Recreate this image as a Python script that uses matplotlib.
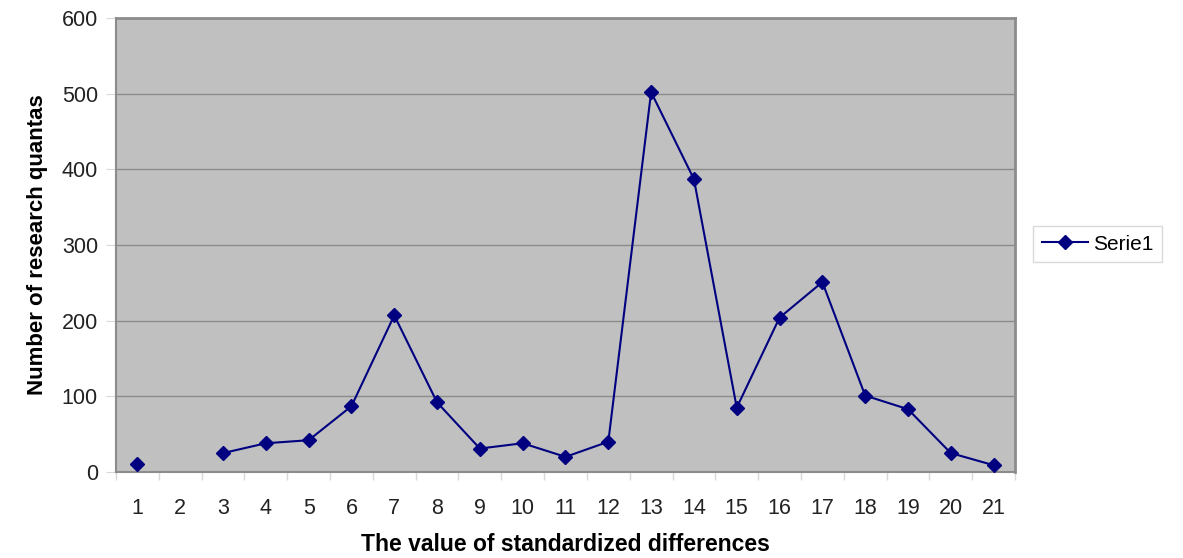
import numpy as np
import matplotlib
matplotlib.use("Agg")
import matplotlib.pyplot as plt

categories = list(range(1, 22))
values = [11, np.nan, 25, 38, 42, 87, 207, 92, 31, 38, 20, 40, 502, 387, 85, 204, 251, 101, 83, 25, 9]
series_name = "Serie1"
yticks = [0, 100, 200, 300, 400, 500, 600]

plt.rcParams['font.family'] = ['Liberation Sans', 'DejaVu Sans']

fig = plt.figure(figsize=(11.83, 5.58), dpi=100)
ax = fig.add_axes([116/1183, 86/558, (1015-116)/1183, (472-18)/558])
ax.set_facecolor('#C0C0C0')

x = np.arange(1, 22)
ax.plot(x, values, color='#000080', lw=1.5, marker='D', ms=7, label=series_name, zorder=3)

ax.set_xlim(0.5, 21.5)
ax.set_ylim(0, 600)
ax.set_yticks(yticks)
ax.set_yticklabels([str(t) for t in yticks], fontsize=15.5, color='#222222')
ax.set_xticks(x)
ax.set_xticklabels([str(c) for c in categories], fontsize=15.5, color='#222222')
ax.set_xticks(np.arange(0.5, 22, 1), minor=True)
ax.tick_params(axis='x', which='major', length=0, pad=19)
ax.tick_params(axis='x', which='minor', length=6, color='#D8D8D8', width=1)
ax.tick_params(axis='y', length=7, color='#D8D8D8', pad=6)

ax.grid(axis='y', color='#8C8C8C', lw=1)
ax.set_axisbelow(True)
for s in ['top', 'right']:
    ax.spines[s].set_color('#8C8C8C')
    ax.spines[s].set_linewidth(2)
ax.spines['left'].set_color('#8C8C8C')
ax.spines['left'].set_linewidth(1.5)
ax.spines['bottom'].set_color('#8C8C8C')
ax.spines['bottom'].set_linewidth(1.5)

ax.set_xlabel('The value of standardized differences', fontsize=16.5, fontweight='bold', labelpad=10)
ax.set_ylabel('Number of research quantas', fontsize=16, fontweight='bold', labelpad=10)

leg = fig.legend(loc='center left', bbox_to_anchor=(1023/1183, 1 - 244/558), fontsize=15,
                 frameon=True, fancybox=False, edgecolor='#D0D0D0', handlelength=2.2,
                 borderpad=0.4, handletextpad=0.25)
leg.get_frame().set_linewidth(1)

fig.savefig('out.png', dpi=100)
